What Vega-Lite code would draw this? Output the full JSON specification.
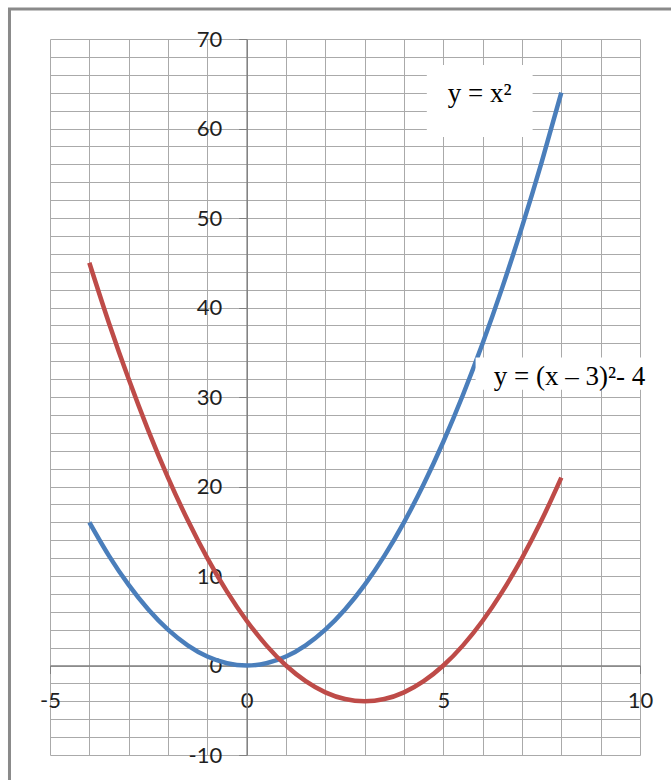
{
  "$schema": "https://vega.github.io/schema/vega-lite/v6.json",
  "width": 590,
  "height": 716,
  "autosize": "none",
  "padding": {"left": 50, "top": 39, "right": 31, "bottom": 25},
  "background": "white",
  "config": {"view": {"stroke": null}},
  "datasets": {
    "frame": [{"x1": -6.03, "x2": 20, "y1": 73.35, "y2": -30}],
    "curves": [
      {"series": "y = x²", "x": -4, "y": 16},
      {"series": "y = x²", "x": -3.5, "y": 12.25},
      {"series": "y = x²", "x": -3, "y": 9},
      {"series": "y = x²", "x": -2.5, "y": 6.25},
      {"series": "y = x²", "x": -2, "y": 4},
      {"series": "y = x²", "x": -1.5, "y": 2.25},
      {"series": "y = x²", "x": -1, "y": 1},
      {"series": "y = x²", "x": -0.5, "y": 0.25},
      {"series": "y = x²", "x": 0, "y": 0},
      {"series": "y = x²", "x": 0.5, "y": 0.25},
      {"series": "y = x²", "x": 1, "y": 1},
      {"series": "y = x²", "x": 1.5, "y": 2.25},
      {"series": "y = x²", "x": 2, "y": 4},
      {"series": "y = x²", "x": 2.5, "y": 6.25},
      {"series": "y = x²", "x": 3, "y": 9},
      {"series": "y = x²", "x": 3.5, "y": 12.25},
      {"series": "y = x²", "x": 4, "y": 16},
      {"series": "y = x²", "x": 4.5, "y": 20.25},
      {"series": "y = x²", "x": 5, "y": 25},
      {"series": "y = x²", "x": 5.5, "y": 30.25},
      {"series": "y = x²", "x": 6, "y": 36},
      {"series": "y = x²", "x": 6.5, "y": 42.25},
      {"series": "y = x²", "x": 7, "y": 49},
      {"series": "y = x²", "x": 7.5, "y": 56.25},
      {"series": "y = x²", "x": 8, "y": 64},
      {"series": "y = (x – 3)²- 4", "x": -4, "y": 45},
      {"series": "y = (x – 3)²- 4", "x": -3.5, "y": 38.25},
      {"series": "y = (x – 3)²- 4", "x": -3, "y": 32},
      {"series": "y = (x – 3)²- 4", "x": -2.5, "y": 26.25},
      {"series": "y = (x – 3)²- 4", "x": -2, "y": 21},
      {"series": "y = (x – 3)²- 4", "x": -1.5, "y": 16.25},
      {"series": "y = (x – 3)²- 4", "x": -1, "y": 12},
      {"series": "y = (x – 3)²- 4", "x": -0.5, "y": 8.25},
      {"series": "y = (x – 3)²- 4", "x": 0, "y": 5},
      {"series": "y = (x – 3)²- 4", "x": 0.5, "y": 2.25},
      {"series": "y = (x – 3)²- 4", "x": 1, "y": 0},
      {"series": "y = (x – 3)²- 4", "x": 1.5, "y": -1.75},
      {"series": "y = (x – 3)²- 4", "x": 2, "y": -3},
      {"series": "y = (x – 3)²- 4", "x": 2.5, "y": -3.75},
      {"series": "y = (x – 3)²- 4", "x": 3, "y": -4},
      {"series": "y = (x – 3)²- 4", "x": 3.5, "y": -3.75},
      {"series": "y = (x – 3)²- 4", "x": 4, "y": -3},
      {"series": "y = (x – 3)²- 4", "x": 4.5, "y": -1.75},
      {"series": "y = (x – 3)²- 4", "x": 5, "y": 0},
      {"series": "y = (x – 3)²- 4", "x": 5.5, "y": 2.25},
      {"series": "y = (x – 3)²- 4", "x": 6, "y": 5},
      {"series": "y = (x – 3)²- 4", "x": 6.5, "y": 8.25},
      {"series": "y = (x – 3)²- 4", "x": 7, "y": 12},
      {"series": "y = (x – 3)²- 4", "x": 7.5, "y": 16.25},
      {"series": "y = (x – 3)²- 4", "x": 8, "y": 21}
    ],
    "boxes": [
      {"x1": 4.58, "x2": 7.27, "y1": 67.1, "y2": 59.05},
      {"x1": 5.82, "x2": 10.6, "y1": 34.4, "y2": 30.8}
    ],
    "labels": [
      {"label": "y = x²", "x": 5.11, "y": 62.96},
      {"label": "y = (x – 3)²- 4", "x": 6.28, "y": 31.34}
    ]
  },
  "layer": [
    {
      "data": {"name": "frame"},
      "mark": {"type": "rect", "filled": false, "stroke": "#8a8a8a", "strokeWidth": 3},
      "encoding": {
        "x": {
          "field": "x1", "type": "quantitative",
          "scale": {"domain": [-5, 10], "nice": false, "zero": false},
          "axis": {
            "orient": "bottom",
            "values": [-5, -4, -3, -2, -1, 0, 1, 2, 3, 4, 5, 6, 7, 8, 9, 10],
            "grid": true, "gridColor": "#aaaaaa", "gridWidth": 1,
            "labels": false, "ticks": false, "domain": false, "title": null
          }
        },
        "x2": {"field": "x2"},
        "y": {
          "field": "y1", "type": "quantitative",
          "scale": {"domain": [-10, 70], "nice": false, "zero": false},
          "axis": {
            "orient": "left",
            "values": [-10, -8, -6, -4, -2, 0, 2, 4, 6, 8, 10, 12, 14, 16, 18, 20, 22, 24, 26, 28, 30, 32, 34, 36, 38, 40, 42, 44, 46, 48, 50, 52, 54, 56, 58, 60, 62, 64, 66, 68, 70],
            "grid": true, "gridColor": "#aaaaaa", "gridWidth": 1,
            "labels": false, "ticks": false, "domain": false, "title": null
          }
        },
        "y2": {"field": "y2"}
      }
    },
    {
      "data": {"name": "curves"},
      "mark": {"type": "line", "strokeWidth": 4.5, "interpolate": "monotone"},
      "encoding": {
        "x": {
          "field": "x", "type": "quantitative",
          "scale": {"domain": [-5, 10], "nice": false, "zero": false},
          "axis": {
            "orient": "bottom", "offset": -89.5,
            "values": [-5, 0, 5, 10],
            "labelExpr": "'' + datum.value",
            "grid": false, "title": null,
            "domainColor": "#808080", "domainWidth": 1.5,
            "tickColor": "#808080", "tickSize": 8, "tickWidth": 1,
            "labelPadding": 17, "labelFont": "Lato", "labelFontSize": 22,
            "labelColor": "#1f1f1f", "labelFlush": false, "labelOverlap": false, "labelBound": false
          }
        },
        "y": {
          "field": "y", "type": "quantitative",
          "scale": {"domain": [-10, 70], "nice": false, "zero": false},
          "axis": {
            "orient": "left", "offset": -196.67,
            "values": [-10, 0, 10, 20, 30, 40, 50, 60, 70],
            "labelExpr": "'' + datum.value",
            "grid": false, "title": null,
            "domainColor": "#808080", "domainWidth": 1.5,
            "tickColor": "#808080", "tickSize": 8, "tickWidth": 1,
            "labelPadding": 17, "labelFont": "Lato", "labelFontSize": 22,
            "labelColor": "#1f1f1f", "labelFlush": false, "labelOverlap": false, "labelBound": false
          }
        },
        "color": {
          "field": "series", "type": "nominal",
          "scale": {"domain": ["y = x²", "y = (x – 3)²- 4"], "range": ["#4a7ebb", "#be4b48"]},
          "legend": null
        },
        "order": {"field": "x", "type": "quantitative"}
      }
    },
    {
      "data": {"name": "boxes"},
      "mark": {"type": "rect", "fill": "white", "strokeWidth": 0},
      "encoding": {
        "x": {"field": "x1", "type": "quantitative", "axis": null},
        "x2": {"field": "x2"},
        "y": {"field": "y1", "type": "quantitative", "axis": null},
        "y2": {"field": "y2"}
      }
    },
    {
      "data": {"name": "labels"},
      "mark": {"type": "text", "font": "Liberation Serif", "fontSize": 27, "align": "left", "baseline": "alphabetic", "color": "black"},
      "encoding": {
        "x": {"field": "x", "type": "quantitative", "axis": null},
        "y": {"field": "y", "type": "quantitative", "axis": null},
        "text": {"field": "label"}
      }
    }
  ],
  "resolve": {"axis": {"x": "independent", "y": "independent"}}
}
